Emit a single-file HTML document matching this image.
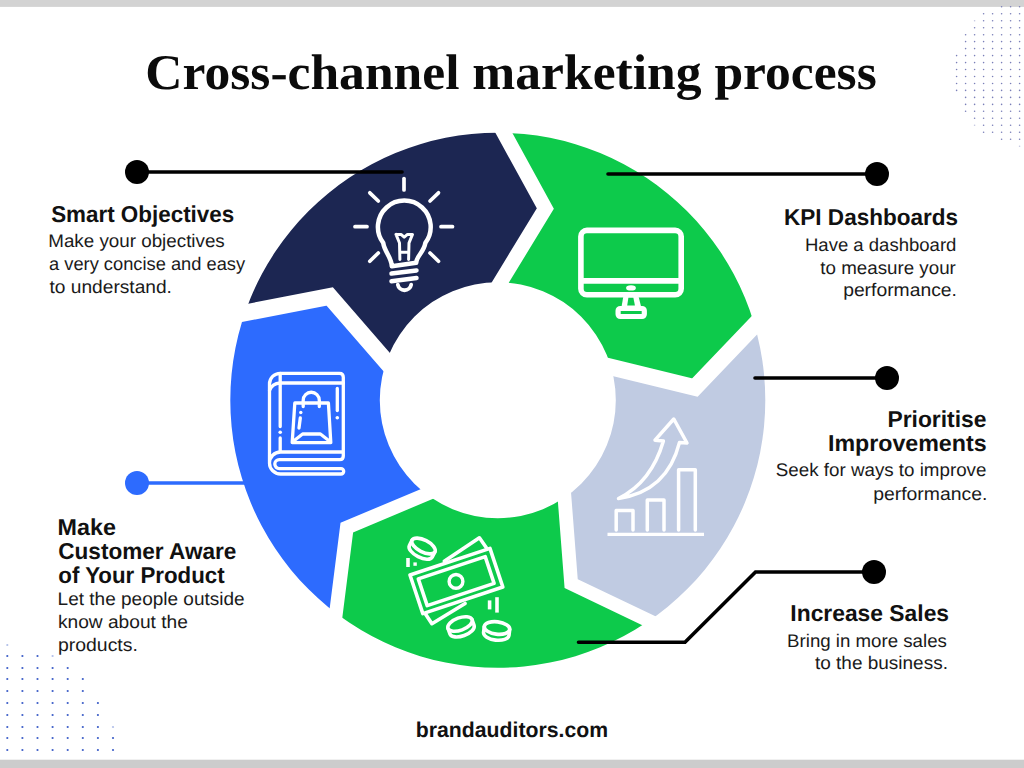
<!DOCTYPE html>
<html><head><meta charset="utf-8">
<style>
html,body{margin:0;padding:0;background:#fff;}
body{width:1024px;height:768px;overflow:hidden;position:relative;}
svg{position:absolute;left:0;top:0;}
text{text-rendering:geometricPrecision;}
.t{font-family:"Liberation Serif",serif;font-weight:bold;fill:#0b0b0b;}
.h{font-family:"Liberation Sans",sans-serif;font-weight:bold;fill:#111;}
.b{font-family:"Liberation Sans",sans-serif;fill:#1a1a1a;}
</style></head>
<body>
<svg width="1024" height="768" viewBox="0 0 1024 768">
<rect x="0" y="0" width="1024" height="768" fill="#fff"/>
<rect x="0" y="0" width="1024" height="6.9" fill="#d3d3d3"/>
<rect x="0" y="759.7" width="1024" height="8.3" fill="#cccccc"/>
<g fill="#7a7fb8"><circle cx="1001.6" cy="6.8" r="0.8" opacity="1"/><circle cx="1010.6" cy="6.8" r="0.8" opacity="1"/><circle cx="1019.6" cy="6.8" r="0.8" opacity="1"/><circle cx="983.6" cy="13.8" r="0.8" opacity="1"/><circle cx="992.6" cy="13.8" r="0.8" opacity="1"/><circle cx="1001.6" cy="13.8" r="0.8" opacity="1"/><circle cx="1010.6" cy="13.8" r="0.8" opacity="1"/><circle cx="1019.6" cy="13.8" r="0.8" opacity="1"/><circle cx="974.6" cy="20.7" r="0.8" opacity="0.45"/><circle cx="983.6" cy="20.7" r="0.8" opacity="1"/><circle cx="992.6" cy="20.7" r="0.8" opacity="1"/><circle cx="1001.6" cy="20.7" r="0.8" opacity="1"/><circle cx="1010.6" cy="20.7" r="0.8" opacity="1"/><circle cx="1019.6" cy="20.7" r="0.8" opacity="1"/><circle cx="974.6" cy="27.7" r="0.8" opacity="1"/><circle cx="983.6" cy="27.7" r="0.8" opacity="1"/><circle cx="992.6" cy="27.7" r="0.8" opacity="1"/><circle cx="1001.6" cy="27.7" r="0.8" opacity="1"/><circle cx="1010.6" cy="27.7" r="0.8" opacity="1"/><circle cx="1019.6" cy="27.7" r="0.8" opacity="1"/><circle cx="965.6" cy="34.7" r="0.8" opacity="1"/><circle cx="974.6" cy="34.7" r="0.8" opacity="1"/><circle cx="983.6" cy="34.7" r="0.8" opacity="1"/><circle cx="992.6" cy="34.7" r="0.8" opacity="1"/><circle cx="1001.6" cy="34.7" r="0.8" opacity="1"/><circle cx="1010.6" cy="34.7" r="0.8" opacity="1"/><circle cx="1019.6" cy="34.7" r="0.8" opacity="1"/><circle cx="965.6" cy="41.6" r="0.8" opacity="1"/><circle cx="974.6" cy="41.6" r="0.8" opacity="1"/><circle cx="983.6" cy="41.6" r="0.8" opacity="1"/><circle cx="992.6" cy="41.6" r="0.8" opacity="1"/><circle cx="1001.6" cy="41.6" r="0.8" opacity="1"/><circle cx="1010.6" cy="41.6" r="0.8" opacity="1"/><circle cx="1019.6" cy="41.6" r="0.8" opacity="1"/><circle cx="965.6" cy="48.6" r="0.8" opacity="1"/><circle cx="974.6" cy="48.6" r="0.8" opacity="1"/><circle cx="983.6" cy="48.6" r="0.8" opacity="1"/><circle cx="992.6" cy="48.6" r="0.8" opacity="1"/><circle cx="1001.6" cy="48.6" r="0.8" opacity="1"/><circle cx="1010.6" cy="48.6" r="0.8" opacity="1"/><circle cx="1019.6" cy="48.6" r="0.8" opacity="1"/><circle cx="956.6" cy="55.6" r="0.8" opacity="1"/><circle cx="965.6" cy="55.6" r="0.8" opacity="1"/><circle cx="974.6" cy="55.6" r="0.8" opacity="1"/><circle cx="983.6" cy="55.6" r="0.8" opacity="1"/><circle cx="992.6" cy="55.6" r="0.8" opacity="1"/><circle cx="1001.6" cy="55.6" r="0.8" opacity="1"/><circle cx="1010.6" cy="55.6" r="0.8" opacity="1"/><circle cx="1019.6" cy="55.6" r="0.8" opacity="1"/><circle cx="956.6" cy="62.6" r="0.8" opacity="1"/><circle cx="965.6" cy="62.6" r="0.8" opacity="1"/><circle cx="974.6" cy="62.6" r="0.8" opacity="1"/><circle cx="983.6" cy="62.6" r="0.8" opacity="1"/><circle cx="992.6" cy="62.6" r="0.8" opacity="1"/><circle cx="1001.6" cy="62.6" r="0.8" opacity="1"/><circle cx="1010.6" cy="62.6" r="0.8" opacity="1"/><circle cx="1019.6" cy="62.6" r="0.8" opacity="1"/><circle cx="956.6" cy="69.5" r="0.8" opacity="1"/><circle cx="965.6" cy="69.5" r="0.8" opacity="1"/><circle cx="974.6" cy="69.5" r="0.8" opacity="1"/><circle cx="983.6" cy="69.5" r="0.8" opacity="1"/><circle cx="992.6" cy="69.5" r="0.8" opacity="1"/><circle cx="1001.6" cy="69.5" r="0.8" opacity="1"/><circle cx="1010.6" cy="69.5" r="0.8" opacity="1"/><circle cx="1019.6" cy="69.5" r="0.8" opacity="1"/><circle cx="956.6" cy="76.5" r="0.8" opacity="1"/><circle cx="965.6" cy="76.5" r="0.8" opacity="1"/><circle cx="974.6" cy="76.5" r="0.8" opacity="1"/><circle cx="983.6" cy="76.5" r="0.8" opacity="1"/><circle cx="992.6" cy="76.5" r="0.8" opacity="1"/><circle cx="1001.6" cy="76.5" r="0.8" opacity="1"/><circle cx="1010.6" cy="76.5" r="0.8" opacity="1"/><circle cx="1019.6" cy="76.5" r="0.8" opacity="1"/><circle cx="956.6" cy="83.5" r="0.8" opacity="1"/><circle cx="965.6" cy="83.5" r="0.8" opacity="1"/><circle cx="974.6" cy="83.5" r="0.8" opacity="1"/><circle cx="983.6" cy="83.5" r="0.8" opacity="1"/><circle cx="992.6" cy="83.5" r="0.8" opacity="1"/><circle cx="1001.6" cy="83.5" r="0.8" opacity="1"/><circle cx="1010.6" cy="83.5" r="0.8" opacity="1"/><circle cx="1019.6" cy="83.5" r="0.8" opacity="1"/><circle cx="956.6" cy="90.4" r="0.8" opacity="1"/><circle cx="965.6" cy="90.4" r="0.8" opacity="1"/><circle cx="974.6" cy="90.4" r="0.8" opacity="1"/><circle cx="983.6" cy="90.4" r="0.8" opacity="1"/><circle cx="992.6" cy="90.4" r="0.8" opacity="1"/><circle cx="1001.6" cy="90.4" r="0.8" opacity="1"/><circle cx="1010.6" cy="90.4" r="0.8" opacity="1"/><circle cx="1019.6" cy="90.4" r="0.8" opacity="1"/><circle cx="965.6" cy="97.4" r="0.8" opacity="1"/><circle cx="974.6" cy="97.4" r="0.8" opacity="1"/><circle cx="983.6" cy="97.4" r="0.8" opacity="1"/><circle cx="992.6" cy="97.4" r="0.8" opacity="1"/><circle cx="1001.6" cy="97.4" r="0.8" opacity="1"/><circle cx="1010.6" cy="97.4" r="0.8" opacity="1"/><circle cx="1019.6" cy="97.4" r="0.8" opacity="1"/><circle cx="965.6" cy="104.4" r="0.8" opacity="1"/><circle cx="974.6" cy="104.4" r="0.8" opacity="1"/><circle cx="983.6" cy="104.4" r="0.8" opacity="1"/><circle cx="992.6" cy="104.4" r="0.8" opacity="1"/><circle cx="1001.6" cy="104.4" r="0.8" opacity="1"/><circle cx="1010.6" cy="104.4" r="0.8" opacity="1"/><circle cx="1019.6" cy="104.4" r="0.8" opacity="1"/><circle cx="965.6" cy="111.3" r="0.8" opacity="1"/><circle cx="974.6" cy="111.3" r="0.8" opacity="1"/><circle cx="983.6" cy="111.3" r="0.8" opacity="1"/><circle cx="992.6" cy="111.3" r="0.8" opacity="1"/><circle cx="1001.6" cy="111.3" r="0.8" opacity="1"/><circle cx="1010.6" cy="111.3" r="0.8" opacity="1"/><circle cx="1019.6" cy="111.3" r="0.8" opacity="1"/><circle cx="974.6" cy="118.3" r="0.8" opacity="1"/><circle cx="983.6" cy="118.3" r="0.8" opacity="1"/><circle cx="992.6" cy="118.3" r="0.8" opacity="1"/><circle cx="1001.6" cy="118.3" r="0.8" opacity="1"/><circle cx="1010.6" cy="118.3" r="0.8" opacity="1"/><circle cx="1019.6" cy="118.3" r="0.8" opacity="1"/><circle cx="974.6" cy="125.3" r="0.8" opacity="0.45"/><circle cx="983.6" cy="125.3" r="0.8" opacity="1"/><circle cx="992.6" cy="125.3" r="0.8" opacity="1"/><circle cx="1001.6" cy="125.3" r="0.8" opacity="1"/><circle cx="1010.6" cy="125.3" r="0.8" opacity="1"/><circle cx="1019.6" cy="125.3" r="0.8" opacity="1"/><circle cx="983.6" cy="132.3" r="0.8" opacity="1"/><circle cx="992.6" cy="132.3" r="0.8" opacity="1"/><circle cx="1001.6" cy="132.3" r="0.8" opacity="1"/><circle cx="1010.6" cy="132.3" r="0.8" opacity="1"/><circle cx="1019.6" cy="132.3" r="0.8" opacity="1"/><circle cx="1001.6" cy="139.2" r="0.8" opacity="1"/><circle cx="1010.6" cy="139.2" r="0.8" opacity="1"/><circle cx="1019.6" cy="139.2" r="0.8" opacity="1"/><circle cx="1019.6" cy="146.2" r="0.8" opacity="0.45"/></g>
<g fill="#3d5ec8"><circle cx="7.3" cy="645" r="1.1" opacity="0.4"/><circle cx="7.3" cy="656" r="1.1" opacity="1"/><circle cx="22.4" cy="656" r="1.1" opacity="1"/><circle cx="37.5" cy="656" r="1.1" opacity="1"/><circle cx="52.6" cy="656" r="1.1" opacity="0.4"/><circle cx="7.3" cy="668" r="1.1" opacity="1"/><circle cx="22.4" cy="668" r="1.1" opacity="1"/><circle cx="37.5" cy="668" r="1.1" opacity="1"/><circle cx="52.6" cy="668" r="1.1" opacity="1"/><circle cx="67.7" cy="668" r="1.1" opacity="1"/><circle cx="7.3" cy="679" r="1.1" opacity="1"/><circle cx="22.4" cy="679" r="1.1" opacity="1"/><circle cx="37.5" cy="679" r="1.1" opacity="1"/><circle cx="52.6" cy="679" r="1.1" opacity="1"/><circle cx="67.7" cy="679" r="1.1" opacity="1"/><circle cx="82.8" cy="679" r="1.1" opacity="1"/><circle cx="7.3" cy="691" r="1.1" opacity="1"/><circle cx="22.4" cy="691" r="1.1" opacity="1"/><circle cx="37.5" cy="691" r="1.1" opacity="1"/><circle cx="52.6" cy="691" r="1.1" opacity="1"/><circle cx="67.7" cy="691" r="1.1" opacity="1"/><circle cx="82.8" cy="691" r="1.1" opacity="1"/><circle cx="7.3" cy="703" r="1.1" opacity="1"/><circle cx="22.4" cy="703" r="1.1" opacity="1"/><circle cx="37.5" cy="703" r="1.1" opacity="1"/><circle cx="52.6" cy="703" r="1.1" opacity="1"/><circle cx="67.7" cy="703" r="1.1" opacity="1"/><circle cx="82.8" cy="703" r="1.1" opacity="1"/><circle cx="97.9" cy="703" r="1.1" opacity="1"/><circle cx="7.3" cy="715" r="1.1" opacity="1"/><circle cx="22.4" cy="715" r="1.1" opacity="1"/><circle cx="37.5" cy="715" r="1.1" opacity="1"/><circle cx="52.6" cy="715" r="1.1" opacity="1"/><circle cx="67.7" cy="715" r="1.1" opacity="1"/><circle cx="82.8" cy="715" r="1.1" opacity="1"/><circle cx="97.9" cy="715" r="1.1" opacity="1"/><circle cx="7.3" cy="727" r="1.1" opacity="1"/><circle cx="22.4" cy="727" r="1.1" opacity="1"/><circle cx="37.5" cy="727" r="1.1" opacity="1"/><circle cx="52.6" cy="727" r="1.1" opacity="1"/><circle cx="67.7" cy="727" r="1.1" opacity="1"/><circle cx="82.8" cy="727" r="1.1" opacity="1"/><circle cx="97.9" cy="727" r="1.1" opacity="1"/><circle cx="113.0" cy="727" r="1.1" opacity="0.4"/><circle cx="7.3" cy="738" r="1.1" opacity="1"/><circle cx="22.4" cy="738" r="1.1" opacity="1"/><circle cx="37.5" cy="738" r="1.1" opacity="1"/><circle cx="52.6" cy="738" r="1.1" opacity="1"/><circle cx="67.7" cy="738" r="1.1" opacity="1"/><circle cx="82.8" cy="738" r="1.1" opacity="1"/><circle cx="97.9" cy="738" r="1.1" opacity="1"/><circle cx="113.0" cy="738" r="1.1" opacity="1"/><circle cx="7.3" cy="750" r="1.1" opacity="1"/><circle cx="22.4" cy="750" r="1.1" opacity="1"/><circle cx="37.5" cy="750" r="1.1" opacity="1"/><circle cx="52.6" cy="750" r="1.1" opacity="1"/><circle cx="67.7" cy="750" r="1.1" opacity="1"/><circle cx="82.8" cy="750" r="1.1" opacity="1"/><circle cx="97.9" cy="750" r="1.1" opacity="1"/><circle cx="113.0" cy="750" r="1.1" opacity="1"/></g>
<defs><clipPath id="ring"><path fill-rule="evenodd" d="M230.3,400.2 A267.5,267.5 0 1 1 765.3,400.2 A267.5,267.5 0 1 1 230.3,400.2 Z M379.8,400.2 A118.0,118.0 0 1 0 615.8,400.2 A118.0,118.0 0 1 0 379.8,400.2 Z"/></clipPath></defs>
<g clip-path="url(#ring)">
<path fill="#1c2652" d="M408.97,387.83 L329.71,296.46 L210.95,319.42 A307.5,307.5 0 0 1 487.23,102.38 L545.32,208.48 L482.48,311.83 A78.0,78.0 0 0 0 408.97,387.83 Z"/>
<path fill="#0dca4b" d="M482.48,311.83 L545.32,208.48 L487.23,102.38 A307.5,307.5 0 0 1 778.48,300.08 L694.92,387.52 L577.40,358.88 A78.0,78.0 0 0 0 482.48,311.83 Z"/>
<path fill="#c0cbe2" d="M577.40,358.88 L694.92,387.52 L778.48,300.08 A307.5,307.5 0 0 1 680.25,635.82 L571.15,583.60 L561.83,463.00 A78.0,78.0 0 0 0 577.40,358.88 Z"/>
<path fill="#0dca4b" d="M561.83,463.00 L571.15,583.60 L680.25,635.82 A307.5,307.5 0 0 1 331.60,647.55 L346.82,527.56 L458.35,480.75 A78.0,78.0 0 0 0 561.83,463.00 Z"/>
<path fill="#2d6bfe" d="M458.35,480.75 L346.82,527.56 L331.60,647.55 A307.5,307.5 0 0 1 210.95,319.42 L329.71,296.46 L408.97,387.83 A78.0,78.0 0 0 0 458.35,480.75 Z"/>
</g>
<polyline fill="none" stroke="#fff" stroke-width="14.8" stroke-linejoin="miter" stroke-miterlimit="10" points="487.23,102.38 545.32,208.48 482.48,311.83"/>
<polyline fill="none" stroke="#fff" stroke-width="16.6" stroke-linejoin="miter" stroke-miterlimit="10" points="778.48,300.08 694.92,387.52 577.40,358.88"/>
<polyline fill="none" stroke="#fff" stroke-width="13.8" stroke-linejoin="miter" stroke-miterlimit="10" points="680.25,635.82 571.15,583.60 561.83,463.00"/>
<polyline fill="none" stroke="#fff" stroke-width="13.7" stroke-linejoin="miter" stroke-miterlimit="10" points="331.60,647.55 346.82,527.56 458.35,480.75"/>
<polyline fill="none" stroke="#fff" stroke-width="16.8" stroke-linejoin="miter" stroke-miterlimit="10" points="210.95,319.42 329.71,296.46 408.97,387.83"/>

<!-- connectors -->
<g stroke="#000" stroke-width="3.6" fill="none" stroke-linecap="round" stroke-linejoin="miter">
<line x1="137" y1="172" x2="402" y2="172"/>
<line x1="608" y1="174" x2="877" y2="174"/>
<line x1="755" y1="378" x2="887" y2="378"/>
<polyline points="874,572 755.5,572 685,642.3 578.5,642.3"/>
</g>
<g fill="#000">
<circle cx="137" cy="172" r="12"/>
<circle cx="877" cy="174" r="12"/>
<circle cx="887" cy="378" r="12"/>
<circle cx="874" cy="572" r="12"/>
</g>
<line x1="137" y1="483" x2="250" y2="483" stroke="#2d6bfe" stroke-width="3.6"/>
<circle cx="137" cy="483" r="12" fill="#2d6bfe"/>

<!-- icons -->
<g fill="none" stroke="#fff" stroke-linecap="round" stroke-linejoin="round" stroke-width="3.7">
<line x1="404" y1="178.5" x2="404" y2="190"/>
<line x1="355" y1="226.7" x2="367" y2="226.7"/>
<line x1="441" y1="226.7" x2="452.5" y2="226.7"/>
<line x1="369.8" y1="192.8" x2="378.3" y2="201"/>
<line x1="438.5" y1="192.8" x2="430" y2="201"/>
<line x1="369.8" y1="261.3" x2="378.3" y2="253"/>
<line x1="438.5" y1="261.3" x2="430" y2="253"/>
<path stroke-width="4.5" d="M391.8,266.2 C391.5,257 384.5,252 383.22,242.89 A26.4,26.4 0 1 1 425.38,242.89 C424,252 416.5,256 416.2,262.8 Z"/>
<line stroke-width="4.5" x1="391.5" y1="273.6" x2="416.5" y2="270.4"/>
<line stroke-width="4.5" x1="391.5" y1="281.2" x2="416.5" y2="278.0"/>
<path stroke-width="3.8" d="M397.8,284.6 A6.8,6.8 0 0 0 411.2,284.6"/>
<path stroke-width="3" d="M396,234.4 L401,234.4 L404.2,237.2 L407.5,234.4 L412.5,234.4 L409,243 L408.6,259.5 M396,234.4 L399.5,243 L399.9,259.5 M399.9,252.2 L408.6,252.2"/>
</g>
<g fill="none" stroke="#fff" stroke-linecap="round" stroke-linejoin="round">
<rect x="580.9" y="230.4" width="100.3" height="64.4" rx="6" stroke-width="5.6"/>
<line x1="581" y1="280.9" x2="681" y2="280.9" stroke-width="5.6" stroke-linecap="butt"/>
<rect x="618.1" y="308.5" width="26.2" height="8" rx="2.2" stroke-width="5.2"/>
</g>
<polygon fill="#fff" points="623.4,296 638.4,296 641.2,307 621.5,307"/>
<polygon fill="#0dca4b" points="628.4,297.8 633.4,297.8 634.9,305.6 627.2,305.6"/>
<ellipse cx="631" cy="287.9" rx="4.9" ry="2.7" fill="#fff"/>
<g fill="none" stroke="#fff" stroke-linecap="round" stroke-linejoin="round" stroke-width="3.5">
<line x1="607.5" y1="534.4" x2="704" y2="534.4" stroke-linecap="butt" stroke-width="3.1"/>
<polyline points="616.2,530 616.2,510.6 633,510.6 633,530"/>
<polyline points="647.3,530 647.3,500.1 664,500.1 664,530"/>
<polyline points="678.6,530 678.6,469.8 695.3,469.8 695.3,530"/>
<path d="M618.5,498.5 Q651.4,482.3 663.4,441 L655,440.2 L673.8,419 L687,443 L679.5,442.4 Q667.2,491.4 618.5,498.5 Z"/>
</g>
<g fill="none" stroke="#fff" stroke-linecap="round" stroke-linejoin="round" stroke-width="3.3">
<path d="M269.5,463.5 L269.5,384 A10.7,10.7 0 0 1 280.2,373.3 L339.5,373.3 Q343.3,373.3 343.3,377.3 L343.3,456 Q343.3,459.6 339.8,459.6 L279.3,459.6 A4.5,4.5 0 0 0 279.3,468.6 L341,468.6 A2.7,2.7 0 0 1 341,474 L280.5,474 A11,11 0 0 1 269.5,463 A11,11 0 0 1 280.5,452 L343.3,452"/>
<path d="M343.3,383 L280.2,383 Q272,383.5 269.5,390.5"/>
<path d="M280.2,373.3 L280.2,426.5 M280.2,438 L280.2,451"/>
<path d="M337.3,388.5 L337.3,410.5"/>
<path d="M303.2,406.5 L303.2,400.3 A8.05,8.05 0 0 1 319.3,400.3 L319.3,406.5"/>
<path d="M294.8,403 L328.4,403 L330.8,442.6 L292.2,442.6 Z"/>
<path d="M293,441.5 L302.6,434 L320.4,434 L330,441.5"/>
<path d="M300.3,418 L299,428"/>
</g>
<g fill="#fff"><circle cx="280.2" cy="432.2" r="1.8"/><circle cx="337.3" cy="417.8" r="1.8"/><circle cx="300.8" cy="412.5" r="1.7"/></g>
<g stroke="#fff" stroke-width="3.6" stroke-linejoin="round" stroke-linecap="round" fill="none">
<polyline points="444.3,561.2 479.4,537.8 486.2,547.5"/>
<polyline points="425.5,614 431.9,623.7 465.1,603.5"/>
<polygon fill="#0dca4b" points="409.97,574.95 489.96,548.34 502.83,587.05 422.84,613.66"/>
<polygon points="418.30,578.85 485.20,556.59 494.10,583.35 427.20,605.61"/>
<circle cx="456" cy="581.4" r="6.9" stroke-width="3.4"/>
<g transform="translate(423.5,546.0) rotate(27)"><path fill="#0dca4b" d="M-12.8,0 L-12.8,6 A12.8,6.0 0 0 0 12.8,6 L12.8,0"/><ellipse fill="#0dca4b" cx="0" cy="0" rx="12.8" ry="6.0"/></g>
<g transform="translate(460.0,624.0) rotate(-20)"><path fill="#0dca4b" d="M-12.8,0 L-12.8,6 A12.8,6.2 0 0 0 12.8,6 L12.8,0"/><ellipse fill="#0dca4b" cx="0" cy="0" rx="12.8" ry="6.2"/></g>
<g transform="translate(497.0,628.0) rotate(7)"><path fill="#0dca4b" d="M-12.8,0 L-12.8,6 A12.8,6.2 0 0 0 12.8,6 L12.8,0"/><ellipse fill="#0dca4b" cx="0" cy="0" rx="12.8" ry="6.2"/></g>
<line x1="408" y1="558" x2="408" y2="567" stroke-linecap="butt"/>
<line x1="489.6" y1="600.4" x2="489.6" y2="609.4" stroke-linecap="butt"/>
<line x1="497" y1="597.2" x2="497" y2="612.6" stroke-linecap="butt"/>
</g>
<rect x="413.4" y="562.4" width="3.4" height="3.4" fill="#fff"/>

<!-- text -->
<text class="t" x="145.28" y="88.7" font-size="50" textLength="731.48" lengthAdjust="spacingAndGlyphs">Cross-channel marketing process</text>
<text class="h" x="51.15" y="221.9" font-size="23" textLength="183.06" lengthAdjust="spacingAndGlyphs">Smart Objectives</text>
<text class="b" x="48.26" y="247.0" font-size="18.3" textLength="176.52" lengthAdjust="spacingAndGlyphs">Make your objectives</text>
<text class="b" x="49.02" y="269.6" font-size="18.3" textLength="196.11" lengthAdjust="spacingAndGlyphs">a very concise and easy</text>
<text class="b" x="49.51" y="292.9" font-size="18.3" textLength="122.44" lengthAdjust="spacingAndGlyphs">to understand.</text>
<text class="h" x="784.09" y="224.8" font-size="23" textLength="173.93" lengthAdjust="spacingAndGlyphs">KPI Dashboards</text>
<text class="b" x="804.98" y="250.9" font-size="18.3" textLength="151.42" lengthAdjust="spacingAndGlyphs">Have a dashboard</text>
<text class="b" x="820.32" y="273.7" font-size="18.3" textLength="135.50" lengthAdjust="spacingAndGlyphs">to measure your</text>
<text class="b" x="843.15" y="296.2" font-size="18.3" textLength="113.81" lengthAdjust="spacingAndGlyphs">performance.</text>
<text class="h" x="887.47" y="426.5" font-size="23" textLength="98.91" lengthAdjust="spacingAndGlyphs">Prioritise</text>
<text class="h" x="827.95" y="450.5" font-size="23" textLength="158.60" lengthAdjust="spacingAndGlyphs">Improvements</text>
<text class="b" x="775.85" y="476.4" font-size="18.3" textLength="210.59" lengthAdjust="spacingAndGlyphs">Seek for ways to improve</text>
<text class="b" x="873.15" y="499.5" font-size="18.3" textLength="114.22" lengthAdjust="spacingAndGlyphs">performance.</text>
<text class="h" x="790.37" y="620.9" font-size="23" textLength="158.66" lengthAdjust="spacingAndGlyphs">Increase Sales</text>
<text class="b" x="787.07" y="646.8" font-size="18.3" textLength="159.81" lengthAdjust="spacingAndGlyphs">Bring in more sales</text>
<text class="b" x="815.01" y="669.1" font-size="18.3" textLength="132.92" lengthAdjust="spacingAndGlyphs">to the business.</text>
<text class="h" x="57.64" y="534.6" font-size="23" textLength="58.36" lengthAdjust="spacingAndGlyphs">Make</text>
<text class="h" x="58.27" y="558.6" font-size="23" textLength="178.10" lengthAdjust="spacingAndGlyphs">Customer Aware</text>
<text class="h" x="58.33" y="582.8" font-size="23" textLength="166.24" lengthAdjust="spacingAndGlyphs">of Your Product</text>
<text class="b" x="57.64" y="604.8" font-size="18.3" textLength="187.01" lengthAdjust="spacingAndGlyphs">Let the people outside</text>
<text class="b" x="57.91" y="627.5" font-size="18.3" textLength="129.94" lengthAdjust="spacingAndGlyphs">know about the</text>
<text class="b" x="57.95" y="650.5" font-size="18.3" textLength="79.93" lengthAdjust="spacingAndGlyphs">products.</text>
<text class="h" x="415.80" y="736.8" font-size="21.5" textLength="192.22" lengthAdjust="spacingAndGlyphs">brandauditors.com</text>
</svg>
</body></html>
